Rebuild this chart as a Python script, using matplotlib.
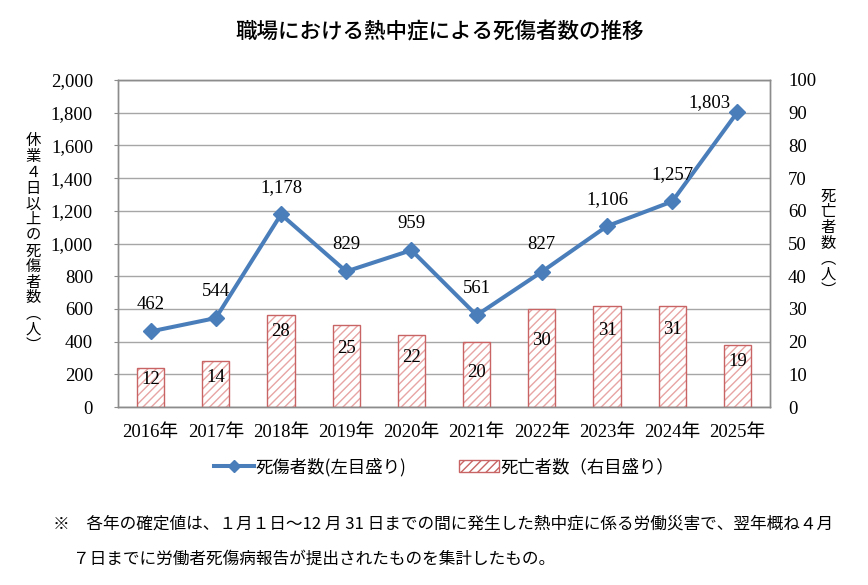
import matplotlib

matplotlib.use("Agg")
import matplotlib.pyplot as plt
from matplotlib.lines import Line2D
from matplotlib.patches import Patch
import numpy as np

plt.rcParams["font.family"] = ["Liberation Serif", "Noto Sans CJK JP", "DejaVu Sans"]
plt.rcParams["hatch.linewidth"] = 1.0

JP = ["Noto Sans CJK JP", "DejaVu Sans"]

years = ["2016年", "2017年", "2018年", "2019年", "2020年",
         "2021年", "2022年", "2023年", "2024年", "2025年"]
injured = [462, 544, 1178, 829, 959, 561, 827, 1106, 1257, 1803]
deaths = [12, 14, 28, 25, 22, 20, 30, 31, 31, 19]

left_ticks = list(range(0, 2001, 200))
right_ticks = list(range(0, 101, 10))

# label placement tweaks (pixels)
bar_label_drop = [12, 16, 16, 23, 22, 31, 32, 25, 24, 17]
line_label_shift = [(0, 27)] * 9 + [(-28, 10)]

LINE_BLUE = "#4a7ebb"
BAR_EDGE = "#c86464"
HATCH_PINK = "#e8a4a4"
GRID = "#a6a6a6"

fig = plt.figure(figsize=(8.68, 5.85), dpi=100)
ax = fig.add_axes([118 / 868, 1 - 407 / 585, 652 / 868, 327 / 585])
ax2 = ax.twinx()
ax.set_zorder(2)
ax.patch.set_visible(False)
ax2.set_zorder(1)

x = np.arange(len(years))

# bars (right scale): hatch layer then outline
ax2.bar(x, deaths, width=0.42, color="white", edgecolor=HATCH_PINK,
        linewidth=0, hatch="////", zorder=2)
ax2.bar(x, deaths, width=0.42, fill=False, edgecolor=BAR_EDGE,
        linewidth=1.0, zorder=3)
ax2.set_ylim(0, 100)
ax2.set_yticks(right_ticks)
ax2.yaxis.grid(True, color=GRID, linewidth=1.0, zorder=0)
ax2.set_axisbelow(True)
for i, v in enumerate(deaths):
    ax2.annotate(str(v), (x[i], v), xytext=(0, -bar_label_drop[i] * 0.72),
                 textcoords="offset points", ha="center", va="center",
                 fontsize=13.5, zorder=4)

# line (left scale)
ax.plot(x, injured, color=LINE_BLUE, linewidth=2.9, marker="D",
        markersize=7.7, zorder=5)
ax.set_ylim(0, 2000)
ax.set_yticks(left_ticks)
ax.set_yticklabels([f"{t:,}" for t in left_ticks])
ax.set_xlim(-0.5, len(years) - 0.5)
ax.set_xticks(x)
ax.set_xticklabels(years)
for i, v in enumerate(injured):
    dx, dy = line_label_shift[i]
    ax.annotate(f"{v:,}", (x[i], v), xytext=(dx * 0.72, dy * 0.72),
                textcoords="offset points", ha="center", va="center",
                fontsize=13.5, zorder=6)

for a in (ax, ax2):
    for s in a.spines.values():
        s.set_color("#8c8c8c")
        s.set_linewidth(1.0)

ax.tick_params(axis="y", length=3, color="#8c8c8c", pad=15, labelsize=13.5)
ax.tick_params(axis="x", length=0, pad=12, labelsize=13.5)
ax2.tick_params(axis="y", length=0, pad=13, labelsize=13.5)

fig.text(0.507, 1 - 32 / 585, "職場における熱中症による死傷者数の推移",
         ha="center", va="center", fontsize=15.5, fontweight="medium", family=JP)

left_label = "休業４日以上の死傷者数︵人︶"
fig.text(33 / 868, 1 - 243 / 585, "\n".join(left_label), ha="center", va="center",
         fontsize=11, linespacing=0.9, family=JP)
right_label = "死亡者数︵人︶"
fig.text(828 / 868, 1 - 243 / 585, "\n".join(right_label), ha="center", va="center",
         fontsize=11, linespacing=0.9, family=JP)

handles = [
    Line2D([0], [0], color=LINE_BLUE, linewidth=2.9, marker="D", markersize=6),
    Patch(facecolor="white", edgecolor=BAR_EDGE, hatch="////", linewidth=1.0),
]
labels = ["死傷者数(左目盛り)", "死亡者数（右目盛り）"]
fig.legend(handles, labels, loc="center", bbox_to_anchor=(444 / 868, 1 - 467 / 585),
           ncol=2, frameon=False, handlelength=2.3, handletextpad=0.1,
           columnspacing=3.0, prop={"family": JP, "size": 12.5})

fig.text(53 / 868, 1 - 524 / 585,
         "※　各年の確定値は、１月１日～12 月 31 日までの間に発生した熱中症に係る労働災害で、翌年概ね４月",
         ha="left", va="center", fontsize=12, family=JP)
fig.text(73 / 868, 1 - 559 / 585,
         "７日までに労働者死傷病報告が提出されたものを集計したもの。",
         ha="left", va="center", fontsize=12, family=JP)

fig.savefig("out.png", dpi=100)
